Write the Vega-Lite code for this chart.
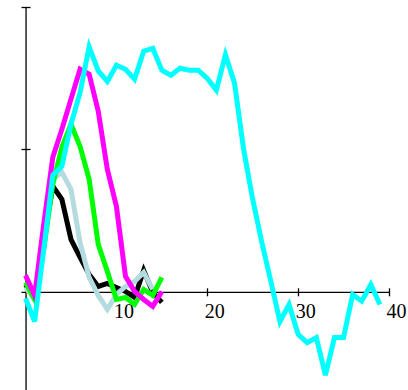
{
  "$schema": "https://vega.github.io/schema/vega-lite/v6.json",
  "width": 368,
  "height": 383,
  "autosize": "none",
  "padding": {"left": 21, "top": 7, "right": 19, "bottom": 0},
  "background": "white",
  "config": {
    "view": {"stroke": null},
    "axis": {
      "grid": false,
      "domainColor": "black",
      "tickColor": "black",
      "labelColor": "black",
      "labelFont": "Liberation Serif",
      "labelFontSize": 20,
      "domainWidth": 1.3,
      "tickWidth": 1.3,
      "labelFlush": false,
      "labelOverlap": false,
      "labelBound": false
    }
  },
  "data": {
    "values": [
      {"series": "black", "t": 0, "v": 0.051}, {"series": "black", "t": 1, "v": -0.040}, {"series": "black", "t": 2, "v": 0.368},
      {"series": "black", "t": 3, "v": 0.741}, {"series": "black", "t": 4, "v": 0.649}, {"series": "black", "t": 5, "v": 0.368},
      {"series": "black", "t": 6, "v": 0.241}, {"series": "black", "t": 7, "v": 0.122}, {"series": "black", "t": 8, "v": 0.037},
      {"series": "black", "t": 9, "v": 0.058}, {"series": "black", "t": 10, "v": 0.030}, {"series": "black", "t": 11, "v": 0.002},
      {"series": "black", "t": 12, "v": -0.040}, {"series": "black", "t": 13, "v": 0.150}, {"series": "black", "t": 14, "v": -0.005},
      {"series": "black", "t": 15, "v": -0.075},

      {"series": "gray", "t": 0, "v": 0.030}, {"series": "gray", "t": 1, "v": -0.054}, {"series": "gray", "t": 2, "v": 0.354},
      {"series": "gray", "t": 3, "v": 0.790}, {"series": "gray", "t": 4, "v": 0.839}, {"series": "gray", "t": 5, "v": 0.719},
      {"series": "gray", "t": 6, "v": 0.347}, {"series": "gray", "t": 7, "v": 0.101}, {"series": "gray", "t": 8, "v": -0.026},
      {"series": "gray", "t": 9, "v": -0.124}, {"series": "gray", "t": 10, "v": -0.019}, {"series": "gray", "t": 11, "v": 0.037},
      {"series": "gray", "t": 12, "v": 0.072}, {"series": "gray", "t": 13, "v": 0.136}, {"series": "gray", "t": 14, "v": 0.016},

      {"series": "green", "t": 0, "v": 0.065}, {"series": "green", "t": 1, "v": -0.054}, {"series": "green", "t": 2, "v": 0.297},
      {"series": "green", "t": 3, "v": 0.755}, {"series": "green", "t": 4, "v": 1.015}, {"series": "green", "t": 5, "v": 1.177},
      {"series": "green", "t": 6, "v": 1.022}, {"series": "green", "t": 7, "v": 0.790}, {"series": "green", "t": 8, "v": 0.333},
      {"series": "green", "t": 9, "v": 0.143}, {"series": "green", "t": 10, "v": -0.054}, {"series": "green", "t": 11, "v": -0.040},
      {"series": "green", "t": 12, "v": -0.089}, {"series": "green", "t": 13, "v": 0.016}, {"series": "green", "t": 14, "v": -0.026},
      {"series": "green", "t": 15, "v": 0.101},

      {"series": "magenta", "t": 0, "v": 0.115}, {"series": "magenta", "t": 1, "v": -0.026}, {"series": "magenta", "t": 2, "v": 0.473},
      {"series": "magenta", "t": 3, "v": 0.944}, {"series": "magenta", "t": 4, "v": 1.141}, {"series": "magenta", "t": 5, "v": 1.353},
      {"series": "magenta", "t": 6, "v": 1.563}, {"series": "magenta", "t": 7, "v": 1.528}, {"series": "magenta", "t": 8, "v": 1.268},
      {"series": "magenta", "t": 9, "v": 0.860}, {"series": "magenta", "t": 10, "v": 0.600}, {"series": "magenta", "t": 11, "v": 0.108},
      {"series": "magenta", "t": 12, "v": 0.002}, {"series": "magenta", "t": 13, "v": -0.054}, {"series": "magenta", "t": 14, "v": -0.103},
      {"series": "magenta", "t": 15, "v": 0.002},

      {"series": "cyan", "t": 0, "v": -0.047}, {"series": "cyan", "t": 1, "v": -0.209}, {"series": "cyan", "t": 2, "v": 0.297},
      {"series": "cyan", "t": 3, "v": 0.818}, {"series": "cyan", "t": 4, "v": 0.881}, {"series": "cyan", "t": 5, "v": 1.177},
      {"series": "cyan", "t": 6, "v": 1.398}, {"series": "cyan", "t": 7, "v": 1.720}, {"series": "cyan", "t": 8, "v": 1.551},
      {"series": "cyan", "t": 9, "v": 1.477}, {"series": "cyan", "t": 10, "v": 1.591}, {"series": "cyan", "t": 11, "v": 1.563},
      {"series": "cyan", "t": 12, "v": 1.493}, {"series": "cyan", "t": 13, "v": 1.690}, {"series": "cyan", "t": 14, "v": 1.710},
      {"series": "cyan", "t": 15, "v": 1.556}, {"series": "cyan", "t": 16, "v": 1.521}, {"series": "cyan", "t": 17, "v": 1.570},
      {"series": "cyan", "t": 18, "v": 1.556}, {"series": "cyan", "t": 19, "v": 1.556}, {"series": "cyan", "t": 20, "v": 1.498},
      {"series": "cyan", "t": 21, "v": 1.416}, {"series": "cyan", "t": 22, "v": 1.665}, {"series": "cyan", "t": 23, "v": 1.465},
      {"series": "cyan", "t": 24, "v": 1.001}, {"series": "cyan", "t": 25, "v": 0.649}, {"series": "cyan", "t": 26, "v": 0.347},
      {"series": "cyan", "t": 27, "v": 0.072}, {"series": "cyan", "t": 28, "v": -0.209}, {"series": "cyan", "t": 29, "v": -0.089},
      {"series": "cyan", "t": 30, "v": -0.300}, {"series": "cyan", "t": 31, "v": -0.357}, {"series": "cyan", "t": 32, "v": -0.321},
      {"series": "cyan", "t": 33, "v": -0.585}, {"series": "cyan", "t": 34, "v": -0.321}, {"series": "cyan", "t": 35, "v": -0.321},
      {"series": "cyan", "t": 36, "v": -0.019}, {"series": "cyan", "t": 37, "v": -0.066}, {"series": "cyan", "t": 38, "v": 0.051},
      {"series": "cyan", "t": 39, "v": -0.089}
    ]
  },
  "layer": [
    {
      "transform": [{"filter": "datum.series === 'black'"}],
      "mark": {"type": "line", "color": "#000000", "strokeWidth": 5},
      "encoding": {
        "x": {"field": "t", "type": "quantitative", "scale": {"domain": [-0.5, 40], "nice": false, "zero": false},
          "axis": {"orient": "bottom", "offset": -98.2, "values": [10, 20, 30, 40], "tickSize": 4, "labelAlign": "center", "labelOffset": 7, "labelPadding": 6, "title": null}},
        "y": {"field": "v", "type": "quantitative", "scale": {"domain": [-0.69, 2.0], "nice": false, "zero": false},
          "axis": {"orient": "left", "offset": -4.54, "values": [1, 2], "tickSize": 4.5, "labels": false, "title": null}}
      }
    },
    {
      "transform": [{"filter": "datum.series === 'gray'"}],
      "mark": {"type": "line", "color": "#B4DCE0", "strokeWidth": 5},
      "encoding": {
        "x": {"field": "t", "type": "quantitative", "scale": {"domain": [-0.5, 40], "nice": false, "zero": false}, "axis": null},
        "y": {"field": "v", "type": "quantitative", "scale": {"domain": [-0.69, 2.0], "nice": false, "zero": false}, "axis": null}
      }
    },
    {
      "transform": [{"filter": "datum.series === 'green'"}],
      "mark": {"type": "line", "color": "#00FF00", "strokeWidth": 5},
      "encoding": {
        "x": {"field": "t", "type": "quantitative", "scale": {"domain": [-0.5, 40], "nice": false, "zero": false}, "axis": null},
        "y": {"field": "v", "type": "quantitative", "scale": {"domain": [-0.69, 2.0], "nice": false, "zero": false}, "axis": null}
      }
    },
    {
      "transform": [{"filter": "datum.series === 'magenta'"}],
      "mark": {"type": "line", "color": "#FF00FF", "strokeWidth": 5},
      "encoding": {
        "x": {"field": "t", "type": "quantitative", "scale": {"domain": [-0.5, 40], "nice": false, "zero": false}, "axis": null},
        "y": {"field": "v", "type": "quantitative", "scale": {"domain": [-0.69, 2.0], "nice": false, "zero": false}, "axis": null}
      }
    },
    {
      "transform": [{"filter": "datum.series === 'cyan'"}],
      "mark": {"type": "line", "color": "#00FFFF", "strokeWidth": 5},
      "encoding": {
        "x": {"field": "t", "type": "quantitative", "scale": {"domain": [-0.5, 40], "nice": false, "zero": false},
          "axis": {"orient": "top", "offset": -284.8, "values": [10, 20, 30, 40], "tickSize": 4, "labels": false, "domain": false, "title": null}},
        "y": {"field": "v", "type": "quantitative", "scale": {"domain": [-0.69, 2.0], "nice": false, "zero": false},
          "axis": {"orient": "right", "offset": -363.46, "values": [1, 2], "tickSize": 4.5, "labels": false, "domain": false, "title": null}}
      }
    }
  ],
  "resolve": {"axis": {"x": "independent", "y": "independent"}}
}
